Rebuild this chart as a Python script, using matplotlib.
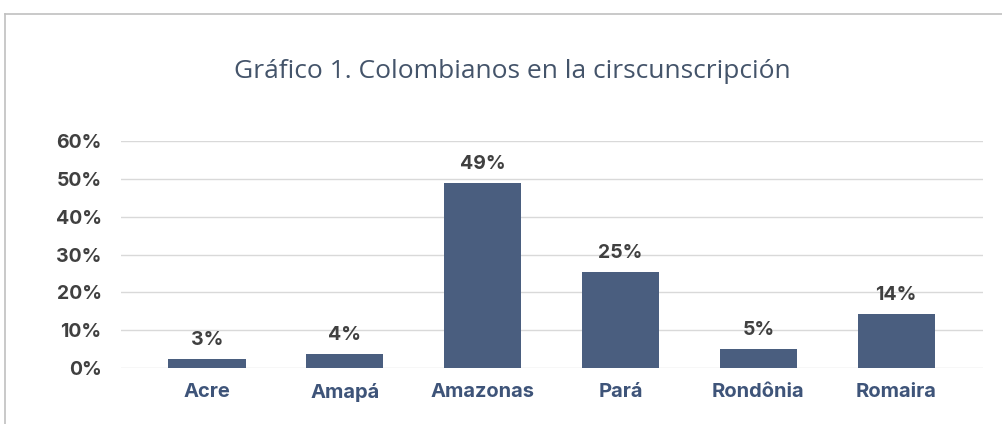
import matplotlib.pyplot as plt
from matplotlib.lines import Line2D
from matplotlib.ticker import PercentFormatter

# data
states = ['Acre', 'Amapá', 'Amazonas', 'Pará', 'Rondônia', 'Romaira']
shares = [0.024, 0.037, 0.489, 0.254, 0.050, 0.143]
labels = ['3%', '4%', '49%', '25%', '5%', '14%']
yticks = [0, 0.1, 0.2, 0.3, 0.4, 0.5, 0.6]

bar_color = '#4a5e7f'
text_gray = '#404040'
cat_blue = '#3e5479'
bold_font = ['Inter', 'DejaVu Sans']

plt.rcParams['font.family'] = ['Open Sans', 'DejaVu Sans']

fig = plt.figure(figsize=(10.02, 4.24), dpi=100)
ax = fig.add_axes([121 / 1002, 1 - 368 / 424, (983 - 121) / 1002, (368 - 141) / 424])

x = range(len(states))
bars = ax.bar(x, shares, width=0.56, color=bar_color, zorder=3)

for b, lab in zip(bars, labels):
    ax.annotate(lab, (b.get_x() + b.get_width() / 2, b.get_height()),
                xytext=(0, 7), textcoords='offset points', ha='center', va='bottom',
                fontsize=14, fontweight='bold', color=text_gray, family=bold_font)

ax.set_ylim(0, 0.6)
ax.set_yticks(yticks)
ax.yaxis.set_major_formatter(PercentFormatter(1.0, decimals=0))
ax.set_xlim(-0.624, 5.63)
ax.set_xticks(list(x))
ax.set_xticklabels(states)

ax.grid(axis='y', color='#d9d9d9', lw=1, zorder=0)
for s in ax.spines.values():
    s.set_visible(False)
ax.tick_params(axis='y', length=0, pad=14, labelsize=14, labelcolor=text_gray)
ax.tick_params(axis='x', length=0, pad=11, labelsize=14.5, labelcolor=cat_blue)
for t in ax.get_yticklabels() + ax.get_xticklabels():
    t.set_fontweight('bold')
    t.set_family(bold_font)

fig.text(512 / 1002, 1 - 72 / 424, 'Gráfico 1. Colombianos en la cirscunscripción',
         ha='center', va='center', fontsize=19, color='#44546a')

# chart frame (cut at right and bottom)
fig.add_artist(Line2D([5 / 1002, 1], [1 - 14 / 424, 1 - 14 / 424], color='#c0c0c0', lw=1.2))
fig.add_artist(Line2D([5 / 1002, 5 / 1002], [0, 1 - 14 / 424], color='#c0c0c0', lw=1.2))

fig.savefig('out.png', dpi=100)
